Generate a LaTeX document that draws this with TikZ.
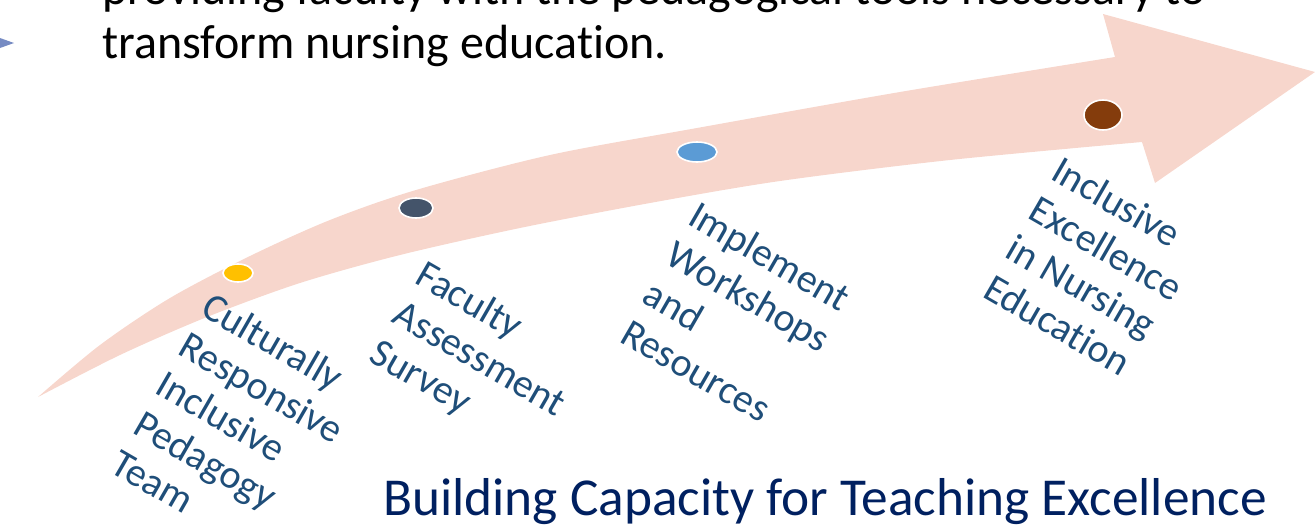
\documentclass[tikz,border=0pt]{standalone}
\usepackage{fontspec}
\setmainfont{Carlito}[Ligatures={NoCommon}]
\usetikzlibrary{shapes.geometric}

\definecolor{bandpink}{RGB}{247,214,204}
\definecolor{dotyellow}{RGB}{255,192,0}
\definecolor{dotslate}{RGB}{68,84,106}
\definecolor{dotblue}{RGB}{91,155,213}
\definecolor{dotbrown}{RGB}{132,60,12}
\definecolor{stepblue}{RGB}{31,78,121}
\definecolor{titlenavy}{RGB}{0,32,96}
\definecolor{sideblue}{RGB}{60,90,170}

\begin{document}
\begin{tikzpicture}[x=0.75pt,y=-0.75pt,
  dot/.style={ellipse,draw=white,line width=1.2pt,inner sep=0pt},
  steplabel/.style={text=stepblue,align=left,inner sep=0pt,rotate=-30,
    anchor=north west,font=\fontsize{30}{34}\selectfont},
  introtext/.style={anchor=base west,inner sep=0pt,font=\fontsize{36}{42}\selectfont},
  ]
  \useasboundingbox (0,0) rectangle (1315,525);
  \clip (0,0) rectangle (1315,525);

  % curved band with arrow head
  \fill[bandpink] plot[smooth] coordinates
      {(38,397) (100,345) (170,298) (250,256) (330,220) (416,190)
       (550,155) (697,128) (900,92) (1115,57)}
    -- (1103,14) -- (1315,72) -- (1155,183) -- (1142,142)
    -- plot[smooth] coordinates
      {(1142,142) (950,160) (780,181) (650,203) (520,228) (400,255)
       (300,283) (207,317) (120,355) (38,397)}
    -- cycle;

  % piece of a blue arrow at the left border
  \fill[sideblue,opacity=0.7] (0,38) -- (14,43) -- (0,48) -- cycle;

  % intro text
  \node[introtext] (intro1) at (102,4)
    {providing faculty with the pedagogical tools necessary to};
  \node[introtext] (intro2) at (102,58) {transform nursing education.};

  % milestones
  \node[dot,fill=dotyellow,minimum width=22.5pt,minimum height=13.5pt] (d1) at (238,273) {};
  \node[dot,fill=dotslate,minimum width=25.5pt,minimum height=15pt] (d2) at (416,208) {};
  \node[dot,fill=dotblue,minimum width=30pt,minimum height=15pt] (d3) at (697,152) {};
  \node[dot,fill=dotbrown,minimum width=28.5pt,minimum height=22.5pt] (d4) at (1103,115) {};

  \node[steplabel] (s1) at (213,290) {Culturally\\Responsive\\Inclusive\\Pedagogy\\Team};
  \node[steplabel] (s2) at (427,258) {Faculty\\Assessment\\Survey};
  \node[steplabel] (s3) at (700,199) {Implement\\Workshops\\and\\Resources};
  \node[steplabel] (s4) at (1063,154) {Inclusive\\Excellence\\in Nursing\\Education};

  % title
  \node[anchor=base west,inner sep=0pt,text=titlenavy,font=\fontsize{40}{48}\selectfont]
    (title) at (383,515) {Building Capacity for Teaching Excellence};
\end{tikzpicture}
\end{document}
